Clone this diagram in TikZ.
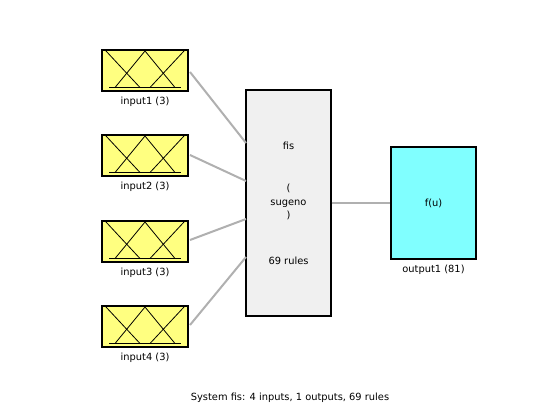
\documentclass[tikz,border=0pt]{standalone}
\usepackage{fontspec}
\setmainfont{DejaVu Sans}
\begin{document}
\begin{tikzpicture}[x=0.75pt,y=-0.75pt,
  every node/.style={font=\fontsize{7.4}{8.5}\selectfont, inner sep=0pt},
  inbox/.style={draw=black, line width=1.1pt, minimum width=64.5pt, minimum height=30.75pt},
  fisbox/.style={draw=black, line width=1.1pt, fill={rgb,255:red,240;green,240;blue,240}, minimum width=63.75pt, minimum height=169.5pt},
  outbox/.style={draw=black, line width=1.1pt, fill={rgb,255:red,128;green,255;blue,255}, minimum width=63.75pt, minimum height=84pt},
  conn/.style={draw={rgb,255:red,176;green,176;blue,176}, line width=1.5pt},
  mf/.style={line width=0.6pt}]
\useasboundingbox (0,0) rectangle (560,420);
\definecolor{yel}{RGB}{255,255,128}
\foreach \i/\y in {1/70.5,2/155.5,3/241.5,4/326.5}{
  \node[inbox, fill=yel] (in\i) at (145,\y) {};
  \node (lab\i) at (145,\y+31.5) {input\i{} (3)};
  \begin{scope}[shift={(in\i.center)}]
    \draw[mf] (-39,-19.5) -- (-5,17);
    \draw[mf] (-30,17) -- (0,-19.5) -- (30,17);
    \draw[mf] (5,17) -- (39,-19.5);
    \draw[mf] (-36,16.5) -- (36,16.5);
  \end{scope}
}
\node[fisbox] (fis) at (288.5,203) {};
\node (fist) at (288.5,146) {fis};
\node[align=center, font=\fontsize{7.4}{10}\selectfont] (fism) at (288.5,202) {(\\sugeno\\)};
\node (fisr) at (288.5,261) {69 rules};
\node[outbox] (out) at (433.5,203) {};
\node (fu) at (433.5,203) {f(u)};
\node (outl) at (433.5,270) {output1 (81)};
\coordinate (a1) at (246,143);
\coordinate (a2) at (246,181);
\coordinate (a3) at (246,219);
\coordinate (a4) at (246,257);
\coordinate (s1) at (190,72);
\coordinate (s2) at (190,155);
\coordinate (s3) at (190,240);
\coordinate (s4) at (190,325);
\foreach \i in {1,...,4}{ \draw[conn] (s\i) -- (a\i); }
\draw[conn] (fis.east) -- (out.west);
\node (cap) at (290,398) {System fis: 4 inputs, 1 outputs, 69 rules};
\end{tikzpicture}
\end{document}
